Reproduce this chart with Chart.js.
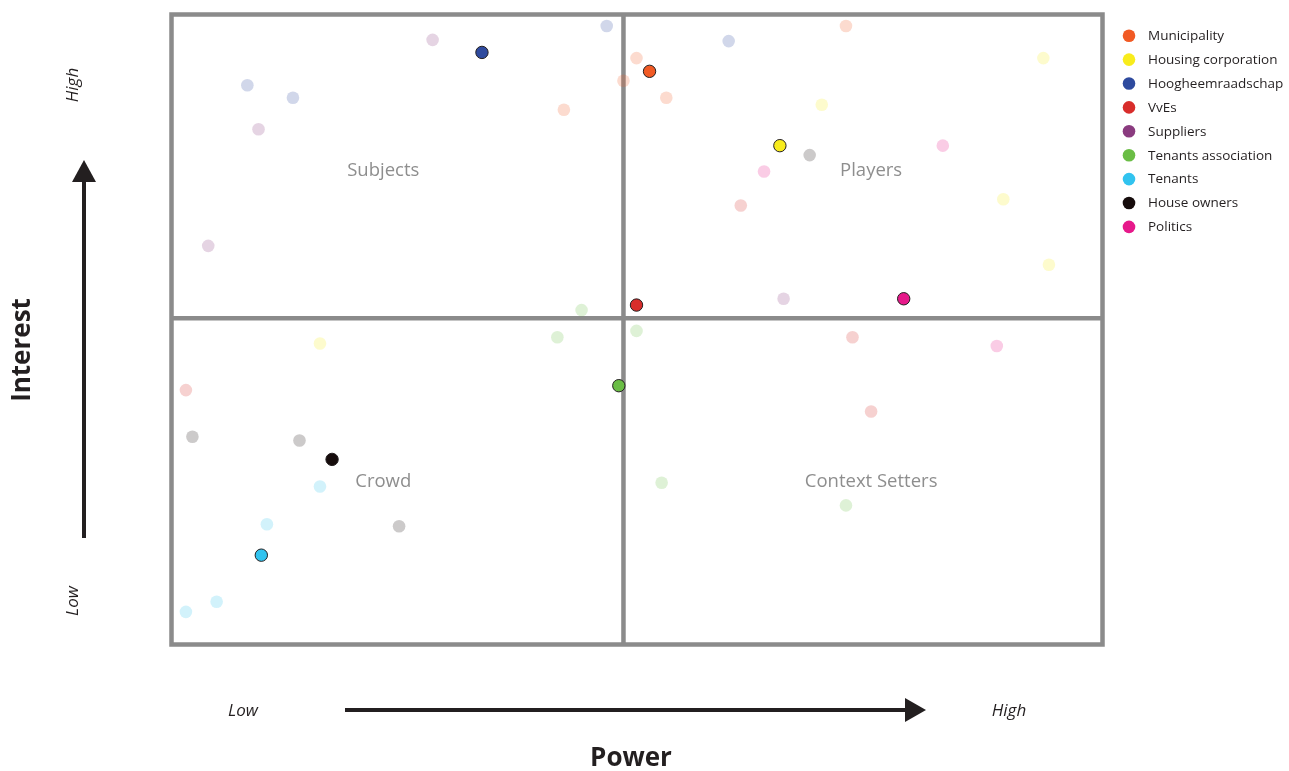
<!DOCTYPE html>
<html>
<head>
<meta charset="utf-8">
<script src="https://cdn.jsdelivr.net/npm/chart.js@4"></script>
<style>
  html, body { margin: 0; padding: 0; background: #fff; }
  #wrap { width: 1289px; height: 771px; }
</style>
</head>
<body>
<div id="wrap"><canvas id="matrix" width="1289" height="771"></canvas></div>
<script>
// stakeholders (legend order)
const categories = ["Municipality", "Housing corporation", "Hoogheemraadschap", "VvEs", "Suppliers",
  "Tenants association", "Tenants", "House owners", "Politics"];
const colors = ["#f15a24", "#f8ec1c", "#2e4a9e", "#d82d2b", "#8a3b7f", "#6abd45", "#31c3ef", "#160c0c", "#e6198a"];

// highlighted position per stakeholder (Suppliers has none)
const currentX = [51.4, 65.4, 33.4, 50.0, null, 48.1, 9.7, 17.3, 78.7];
const currentY = [90.9, 79.1, 93.9, 53.8, null, 41.0, 14.1, 29.3, 54.8];

// other (faded) positions per stakeholder
const otherX = [
  [42.2, 48.6, 50.0, 53.2, 72.5],
  [93.7, 69.9, 89.4, 94.3, 16.0],
  [46.8, 59.9, 8.2, 13.1],
  [1.6, 61.2, 73.2, 75.2],
  [28.1, 9.4, 4.0, 65.8],
  [44.1, 41.5, 50.0, 52.7, 72.5],
  [16.0, 10.3, 4.9, 1.6],
  [68.6, 2.3, 13.8, 24.5],
  [82.9, 63.7, 88.7]
];
const otherY = [
  [84.8, 89.4, 93.0, 86.7, 98.1],
  [93.0, 85.6, 70.6, 60.2, 47.7],
  [98.1, 95.7, 88.7, 86.7],
  [40.3, 69.6, 48.7, 36.9],
  [95.9, 81.7, 63.2, 54.8],
  [53.0, 48.7, 49.7, 25.6, 22.0],
  [25.0, 19.0, 6.7, 5.1],
  [77.6, 32.9, 32.3, 18.7],
  [79.1, 75.0, 47.3]
];

// quadrant split and names
const midX = 48.6;
const midY = 51.7;
const quadrants = ["Subjects", "Players", "Crowd", "Context Setters"];
const quadX = [22.8, 75.2, 22.8, 75.2];
const quadY = [75.1, 75.1, 25.7, 25.7];

const axisTitles = ["Power", "Interest"];
const axisEnds = ["Low", "High"];

function fade(hex, a) {
  const n = parseInt(hex.slice(1), 16);
  return "rgba(" + (n >> 16) + "," + ((n >> 8) & 255) + "," + (n & 255) + "," + a + ")";
}

const datasets = [];
categories.forEach((name, i) => {
  datasets.push({
    label: name + " (other)",
    data: otherX[i].map((x, j) => ({ x: x, y: otherY[i][j] })),
    backgroundColor: fade(colors[i], 0.22),
    borderWidth: 0,
    pointRadius: 6.3,
    order: 1
  });
});
categories.forEach((name, i) => {
  datasets.push({
    label: name,
    data: currentX[i] === null ? [] : [{ x: currentX[i], y: currentY[i] }],
    backgroundColor: colors[i],
    borderColor: "#231f20",
    borderWidth: 1,
    pointRadius: 6.2,
    order: 0
  });
});

const FONT = "'Open Sans', 'Noto Sans', sans-serif";

const matrixPlugin = {
  id: "matrix",
  beforeDatasetsDraw(chart) {
    const { ctx, chartArea: a, scales: { x, y } } = chart;
    ctx.save();
    ctx.strokeStyle = "#8b8b8b";
    ctx.lineWidth = 4.5;
    ctx.strokeRect(a.left + 0.5, a.top + 0.5, a.right - a.left, a.bottom - a.top);
    const mx = x.getPixelForValue(midX);
    const my = y.getPixelForValue(midY);
    ctx.beginPath();
    ctx.moveTo(mx, a.top);
    ctx.lineTo(mx, a.bottom);
    ctx.moveTo(a.left, my);
    ctx.lineTo(a.right, my);
    ctx.stroke();

    // quadrant names
    ctx.fillStyle = "#8e8e8e";
    ctx.font = "18.5px " + FONT;
    ctx.textAlign = "center";
    ctx.textBaseline = "middle";
    quadrants.forEach((q, i) => {
      ctx.fillText(q, x.getPixelForValue(quadX[i]), y.getPixelForValue(quadY[i]));
    });
    ctx.restore();
  },
  afterDraw(chart) {
    const { ctx } = chart;
    ctx.save();
    ctx.fillStyle = "#231f20";
    ctx.strokeStyle = "#231f20";

    // legend
    ctx.font = "13.5px " + FONT;
    ctx.textAlign = "left";
    ctx.textBaseline = "middle";
    categories.forEach((name, i) => {
      const ly = 35.7 + i * 23.9;
      ctx.beginPath();
      ctx.arc(1129, ly, 6.3, 0, Math.PI * 2);
      ctx.fillStyle = colors[i];
      ctx.fill();
      ctx.fillStyle = "#231f20";
      ctx.fillText(name, 1148, ly + 0.5);
    });

    // power arrow
    ctx.lineWidth = 4;
    ctx.beginPath();
    ctx.moveTo(345, 710);
    ctx.lineTo(907, 710);
    ctx.stroke();
    ctx.beginPath();
    ctx.moveTo(926, 710);
    ctx.lineTo(905, 698);
    ctx.lineTo(905, 722);
    ctx.closePath();
    ctx.fill();

    // interest arrow
    ctx.beginPath();
    ctx.moveTo(84, 538);
    ctx.lineTo(84, 181);
    ctx.stroke();
    ctx.beginPath();
    ctx.moveTo(84, 160);
    ctx.lineTo(72, 182);
    ctx.lineTo(96, 182);
    ctx.closePath();
    ctx.fill();

    // axis end labels
    ctx.font = "italic 17px " + FONT;
    ctx.textAlign = "center";
    ctx.fillText(axisEnds[0], 243, 711);
    ctx.fillText(axisEnds[1], 1009, 711);
    ctx.save();
    ctx.translate(73.5, 601);
    ctx.rotate(-Math.PI / 2);
    ctx.fillText(axisEnds[0], 0, 0);
    ctx.restore();
    ctx.save();
    ctx.translate(73.5, 85);
    ctx.rotate(-Math.PI / 2);
    ctx.fillText(axisEnds[1], 0, 0);
    ctx.restore();

    // axis titles
    ctx.font = "bold 26px " + FONT;
    ctx.fillText(axisTitles[0], 631, 759);
    ctx.save();
    ctx.translate(22.5, 350);
    ctx.rotate(-Math.PI / 2);
    ctx.fillText(axisTitles[1], 0, 0);
    ctx.restore();

    ctx.restore();
  }
};

new Chart(document.getElementById("matrix").getContext("2d"), {
  type: "scatter",
  data: { datasets: datasets },
  options: {
    responsive: false,
    animation: false,
    layout: { padding: { left: 171, right: 187, top: 14, bottom: 127 } },
    scales: {
      x: { type: "linear", min: 0, max: 100, display: false },
      y: { type: "linear", min: 0, max: 100, display: false }
    },
    plugins: {
      legend: { display: false },
      tooltip: { enabled: false }
    },
    elements: { point: { hoverRadius: 6.3 } },
    clip: false
  },
  plugins: [matrixPlugin]
});
</script>
</body>
</html>
